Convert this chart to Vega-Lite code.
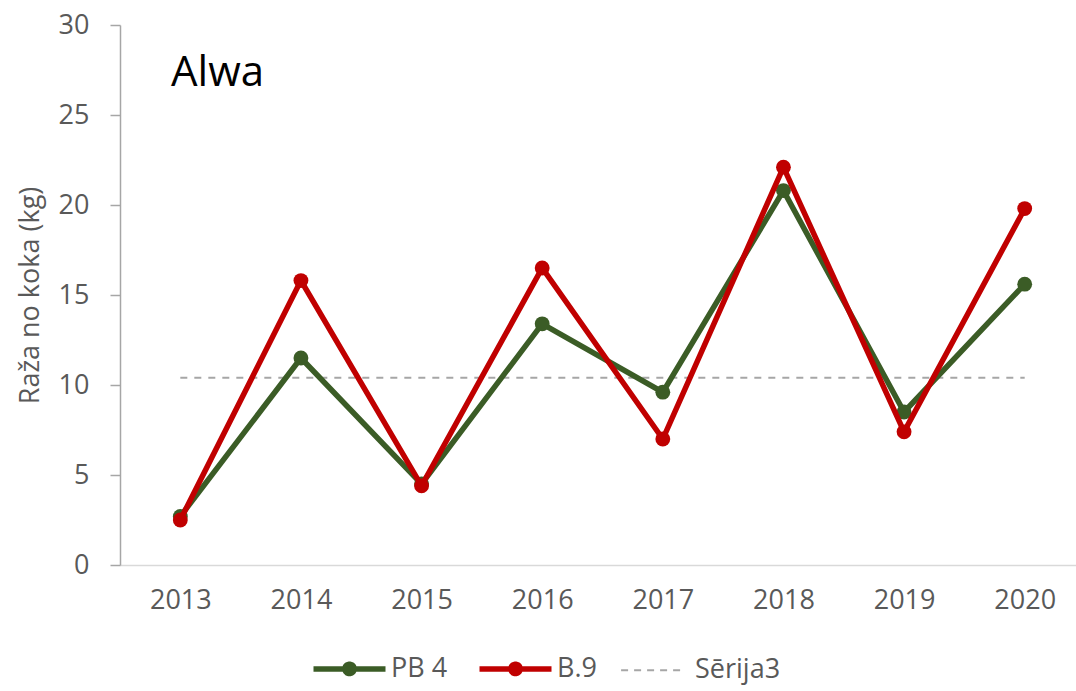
{
  "$schema": "https://vega.github.io/schema/vega-lite/v6.json",
  "width": 965,
  "height": 540,
  "autosize": {"type": "none"},
  "padding": {"left": 120, "top": 25, "right": 0, "bottom": 126},
  "background": "white",
  "config": {
    "view": {"stroke": null},
    "font": "Open Sans"
  },
  "title": {
    "text": "Alwa",
    "anchor": "start",
    "frame": "group",
    "orient": "top",
    "baseline": "alphabetic",
    "offset": -117,
    "dx": 51,
    "fontSize": 42,
    "fontWeight": "normal",
    "color": "#000000",
    "font": "Open Sans"
  },
  "data": {
    "values": [
      {"year": "2013", "series": "PB 4", "value": 2.7},
      {"year": "2014", "series": "PB 4", "value": 11.5},
      {"year": "2015", "series": "PB 4", "value": 4.5},
      {"year": "2016", "series": "PB 4", "value": 13.4},
      {"year": "2017", "series": "PB 4", "value": 9.6},
      {"year": "2018", "series": "PB 4", "value": 20.8},
      {"year": "2019", "series": "PB 4", "value": 8.5},
      {"year": "2020", "series": "PB 4", "value": 15.6},
      {"year": "2013", "series": "B.9", "value": 2.5},
      {"year": "2014", "series": "B.9", "value": 15.8},
      {"year": "2015", "series": "B.9", "value": 4.4},
      {"year": "2016", "series": "B.9", "value": 16.5},
      {"year": "2017", "series": "B.9", "value": 7.0},
      {"year": "2018", "series": "B.9", "value": 22.1},
      {"year": "2019", "series": "B.9", "value": 7.4},
      {"year": "2020", "series": "B.9", "value": 19.8},
      {"year": "2013", "series": "Sērija3", "value": 10.4},
      {"year": "2014", "series": "Sērija3", "value": 10.4},
      {"year": "2015", "series": "Sērija3", "value": 10.4},
      {"year": "2016", "series": "Sērija3", "value": 10.4},
      {"year": "2017", "series": "Sērija3", "value": 10.4},
      {"year": "2018", "series": "Sērija3", "value": 10.4},
      {"year": "2019", "series": "Sērija3", "value": 10.4},
      {"year": "2020", "series": "Sērija3", "value": 10.4}
    ]
  },
  "encoding": {
    "x": {
      "field": "year",
      "type": "ordinal",
      "scale": {"type": "point", "padding": 0.5},
      "axis": {
        "title": null,
        "labelAngle": 0,
        "labelFontSize": 27,
        "labelColor": "#595959",
        "labelFont": "Open Sans",
        "labelPadding": 22,
        "ticks": false,
        "domainColor": "#d9d9d9",
        "domainWidth": 1.5,
        "grid": false
      }
    },
    "y": {
      "field": "value",
      "type": "quantitative",
      "scale": {"domain": [0, 30], "nice": false, "zero": true},
      "axis": {
        "title": "Raža no koka (kg)",
        "titleFontSize": 27,
        "titleFontWeight": "normal",
        "titleColor": "#595959",
        "titleFont": "Open Sans",
        "titlePadding": 14,
        "values": [0, 5, 10, 15, 20, 25, 30],
        "labelFontSize": 27,
        "labelColor": "#595959",
        "labelFont": "Open Sans",
        "labelPadding": 21,
        "tickSize": 10,
        "tickColor": "#a6a6a6",
        "tickWidth": 1.5,
        "domainColor": "#a6a6a6",
        "domainWidth": 1.5,
        "grid": false
      }
    },
    "color": {
      "field": "series",
      "type": "nominal",
      "scale": {
        "domain": ["PB 4", "B.9", "Sērija3"],
        "range": ["#3b5c26", "#c00000", "#a6a6a6"]
      },
      "legend": {
        "title": null,
        "orient": "none",
        "direction": "horizontal",
        "legendX": 216,
        "legendY": 630,
        "padding": 0,
        "gridAlign": "each",
        "symbolSize": 5184,
        "symbolType": "M-1,0L1,0",
        "symbolStrokeWidth": 5.5,
        "labelFontSize": 27,
        "labelColor": "#595959",
        "labelFont": "Open Sans",
        "labelOffset": 28,
        "columnPadding": 20,
        "encode": {
          "symbols": {
            "update": {
              "shape": {"signal": "datum.value === 'Sērija3' ? 'M-0.9,0L0.9,0' : 'M-1,0L1,0M0.13,0A0.13,0.13,0,1,1,-0.13,0A0.13,0.13,0,1,1,0.13,0Z'"},
              "fill": {"scale": "color", "field": "value"},
              "fillOpacity": {"value": 1},
              "stroke": {"scale": "color", "field": "value"},
              "strokeWidth": {"signal": "datum.value === 'Sērija3' ? 2 : 5.5"},
              "strokeDash": {"signal": "datum.value === 'Sērija3' ? [7, 6] : [1, 0]"},
              "opacity": {"value": 1}
            }
          }
        }
      }
    }
  },
  "layer": [
    {
      "transform": [{"filter": "datum.series === 'Sērija3'"}],
      "mark": {"type": "line", "strokeWidth": 2, "strokeDash": [7, 7]}
    },
    {
      "transform": [{"filter": "datum.series === 'PB 4'"}],
      "mark": {"type": "line", "strokeWidth": 5.5}
    },
    {
      "transform": [{"filter": "datum.series === 'PB 4'"}],
      "mark": {"type": "point", "filled": true, "size": 220, "opacity": 1}
    },
    {
      "transform": [{"filter": "datum.series === 'B.9'"}],
      "mark": {"type": "line", "strokeWidth": 5.5}
    },
    {
      "transform": [{"filter": "datum.series === 'B.9'"}],
      "mark": {"type": "point", "filled": true, "size": 220, "opacity": 1}
    }
  ]
}
